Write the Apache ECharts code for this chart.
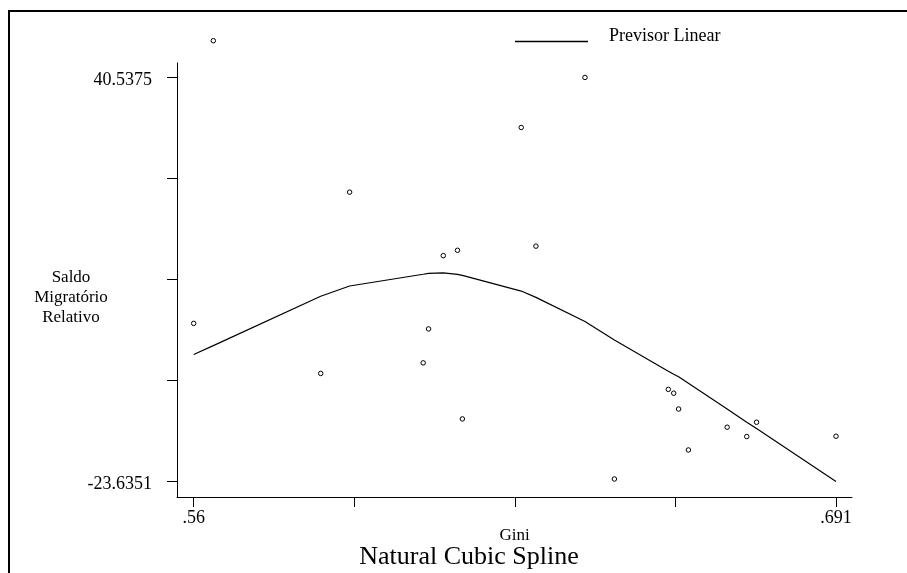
<!DOCTYPE html>
<html>
<head>
<meta charset="utf-8">
<script src="https://cdn.jsdelivr.net/npm/echarts@6/dist/echarts.min.js"></script>
<style>
  html, body { margin: 0; padding: 0; background: #fff; }
  #chart { width: 907px; height: 573px; }
</style>
</head>
<body>
<div id="chart"></div>
<script>
// dados
var gini = [0.5600, 0.5640, 0.5859, 0.5918, 0.6068, 0.6079, 0.6109, 0.6138, 0.6148, 0.6268, 0.6298,
            0.6398, 0.6458, 0.6568, 0.6579, 0.6589, 0.6609, 0.6688, 0.6728, 0.6748, 0.6910];
var saldo = [1.49, 46.37, -6.46, 22.32, -4.78, 0.61, 12.24, 13.09, -13.68, 32.59, 13.75,
             40.5375, -23.22, -8.99, -9.60, -12.11, -18.61, -15.00, -16.48, -14.21, -16.43];
var previsor = [-3.46, -2.04, 5.80, 7.42, 9.29, 9.44, 9.52, 9.28, 9.12, 6.62, 5.62,
                1.78, -1.14, -6.10, -6.58, -7.00, -8.02, -12.12, -14.21, -15.21, -23.6351];

// marcas dos eixos
var xTicks = [0.56, 0.59275, 0.6255, 0.65825, 0.691];
var xLabels = [0.56, 0.691];
var yTicks = [-23.6351, -7.59195, 8.4512, 24.49435, 40.5375];
var yLabels = [-23.6351, 40.5375];

var serif = '"Liberation Serif", "DejaVu Serif", serif';

var chartDom = document.getElementById('chart');
var myChart = echarts.init(chartDom);

var pontos = gini.map(function (g, i) { return [g, saldo[i]]; });
var curva = gini.map(function (g, i) { return [g, previsor[i]]; });

var option = {
    animation: false,
    backgroundColor: '#fff',
    textStyle: { fontFamily: serif, color: '#000' },
    title: [
        {
            text: 'Natural Cubic Spline',
            left: 469, top: 544, textAlign: 'center', padding: 0,
            textStyle: { fontFamily: serif, fontSize: 26, fontWeight: 'normal', color: '#000' }
        },
        {
            text: 'Saldo\nMigratório\nRelativo',
            left: 71, top: 268, textAlign: 'center', padding: 0,
            textStyle: { fontFamily: serif, fontSize: 17, lineHeight: 20, fontWeight: 'normal', color: '#000' }
        }
    ],
    legend: {
        data: [{ name: 'Previsor Linear', icon: 'rect' }],
        left: 515, top: 27, padding: 0,
        itemWidth: 73, itemHeight: 1.5,
        itemStyle: { color: '#000' },
        formatter: function (name) { return '{t|' + name + '}'; },
        textStyle: {
            fontFamily: serif, fontSize: 18, color: '#000', padding: [0, 0, 0, 16],
            rich: { t: { fontFamily: serif, fontSize: 18, color: '#000', lineHeight: 18, padding: [0, 0, 11, 0] } }
        }
    },
    graphic: [{
        type: 'rect',
        shape: { x: 9, y: 11, width: 1200, height: 900 },
        style: { fill: 'none', stroke: '#000', lineWidth: 2 },
        silent: true
    }],
    grid: { left: 177, right: 55, top: 63, bottom: 76 },
    xAxis: {
        type: 'value',
        min: 0.556592, max: 0.694265,
        name: 'Gini', nameLocation: 'middle', nameGap: 30, nameMoveOverlap: false,
        nameTextStyle: { fontFamily: serif, fontSize: 17, color: '#000' },
        splitLine: { show: false },
        axisLine: { show: true, onZero: false, lineStyle: { color: '#000', width: 1 } },
        axisTick: { show: true, length: 10, lineStyle: { color: '#000' }, customValues: xTicks },
        axisLabel: {
            customValues: xLabels, margin: 12, fontFamily: serif, fontSize: 18, color: '#000',
            formatter: function (v) { return String(+v.toFixed(3)).replace(/^0/, ''); }
        }
    },
    yAxis: {
        type: 'value',
        min: -26.08, max: 42.83,
        splitLine: { show: false },
        axisLine: { show: true, onZero: false, lineStyle: { color: '#000', width: 1 } },
        axisTick: { show: true, length: 10, lineStyle: { color: '#000' }, customValues: yTicks },
        axisLabel: {
            customValues: yLabels, margin: 25, fontFamily: serif, fontSize: 18, color: '#000',
            verticalAlign: 'top', lineHeight: 5,
            formatter: function (v) { return v.toFixed(4); }
        }
    },
    series: [
        {
            name: 'Previsor Linear',
            type: 'line',
            data: curva,
            symbol: 'none',
            lineStyle: { color: '#000', width: 1.2 },
            itemStyle: { color: '#000' }
        },
        {
            name: 'Saldo',
            type: 'scatter',
            data: pontos,
            clip: false,
            symbol: 'circle',
            symbolSize: 4.5,
            itemStyle: { color: '#fff', borderColor: '#000', borderWidth: 1, opacity: 1 }
        }
    ]
};

option && myChart.setOption(option);
</script>
</body>
</html>
